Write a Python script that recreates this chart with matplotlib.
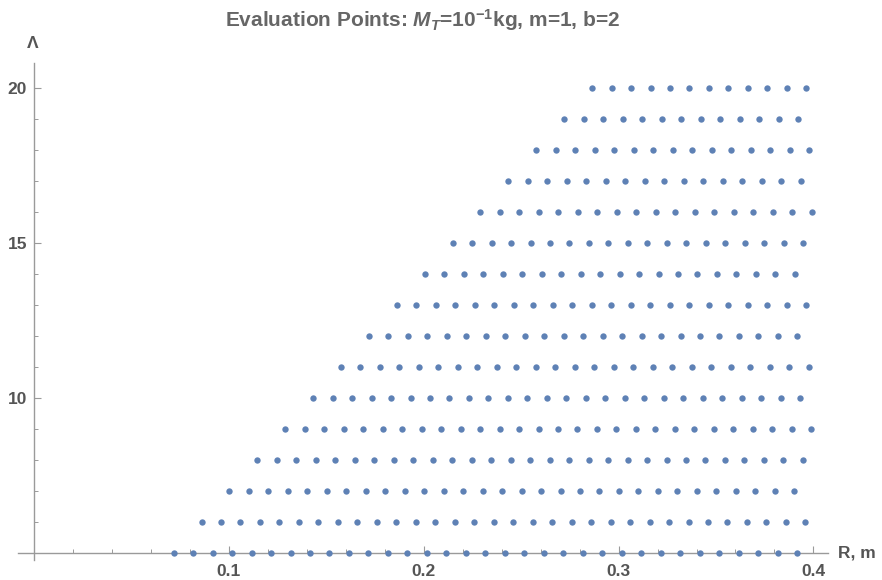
import numpy as np
import matplotlib
matplotlib.use("Agg")
import matplotlib.pyplot as plt
from matplotlib.ticker import MultipleLocator

# evaluation grid: for each Lambda level, first radius and number of points (step 0.01 m)
lam_levels = [5, 6, 7, 8, 9, 10, 11, 12, 13, 14, 15, 16, 17, 18, 19, 20]
r_start = [0.0716, 0.0859, 0.1002, 0.1146, 0.1289, 0.1432, 0.1575, 0.1718,
           0.1862, 0.2005, 0.2148, 0.2291, 0.2434, 0.2578, 0.2721, 0.2864]
n_points = [33, 32, 30, 29, 28, 26, 25, 23, 22, 20, 19, 18, 16, 15, 13, 12]
r_step = 0.01

x_ticks = [0.1, 0.2, 0.3, 0.4]
y_ticks = [10, 15, 20]

plt.rcParams['font.family'] = ['Liberation Sans', 'DejaVu Sans']
plt.rcParams['mathtext.fontset'] = 'custom'
plt.rcParams['mathtext.rm'] = 'Liberation Sans:bold'
plt.rcParams['mathtext.it'] = 'Liberation Sans:italic:bold'
plt.rcParams['mathtext.bf'] = 'Liberation Sans:bold'

txt_col = '#555555'
axis_col = '#9a9a9a'

R = []
L = []
for lam, r0, n in zip(lam_levels, r_start, n_points):
    for k in range(n):
        R.append(r0 + r_step * k)
        L.append(lam)

fig = plt.figure(figsize=(8.82, 5.8), dpi=100)
ax = fig.add_axes([18 / 882, 20 / 580, 810 / 882, 497 / 580])

ax.scatter(R, L, s=21, color='#5E81B5', linewidths=0, zorder=3, clip_on=False)

ax.set_xlim(-0.0083, 0.4075)
ax.set_ylim(4.77, 20.80)

for s in ['top', 'right']:
    ax.spines[s].set_visible(False)
ax.spines['left'].set_position(('data', 0))
ax.spines['bottom'].set_position(('data', 5))
for s in ['left', 'bottom']:
    ax.spines[s].set_color(axis_col)
    ax.spines[s].set_linewidth(1.0)

ax.set_xticks(x_ticks)
ax.set_yticks(y_ticks)
ax.xaxis.set_minor_locator(MultipleLocator(0.02))
ax.yaxis.set_minor_locator(MultipleLocator(1))
ax.tick_params(which='major', direction='in', length=5, width=0.8, color=axis_col,
               labelsize=12.5, labelcolor=txt_col, pad=5)
ax.tick_params(axis='x', which='major', pad=8)
ax.tick_params(which='minor', direction='in', length=3, width=0.7, color=axis_col)
for lbl in ax.get_xticklabels() + ax.get_yticklabels():
    lbl.set_fontweight('bold')

ax.text(0.4125, 5, 'R, m', fontsize=12.5, fontweight='bold', color=txt_col,
        ha='left', va='center')
fig.text(33 / 882, 1 - 44 / 580, 'Λ', fontsize=12.5, fontweight='bold', color=txt_col,
         ha='center', va='center')

fig.text(423 / 882, 1 - 20 / 580, r'Evaluation Points: $M_T$=10$^{-1}$kg, m=1, b=2',
         fontsize=15, fontweight='bold', color='#666666', ha='center', va='center')

fig.savefig('out.png', dpi=100)
